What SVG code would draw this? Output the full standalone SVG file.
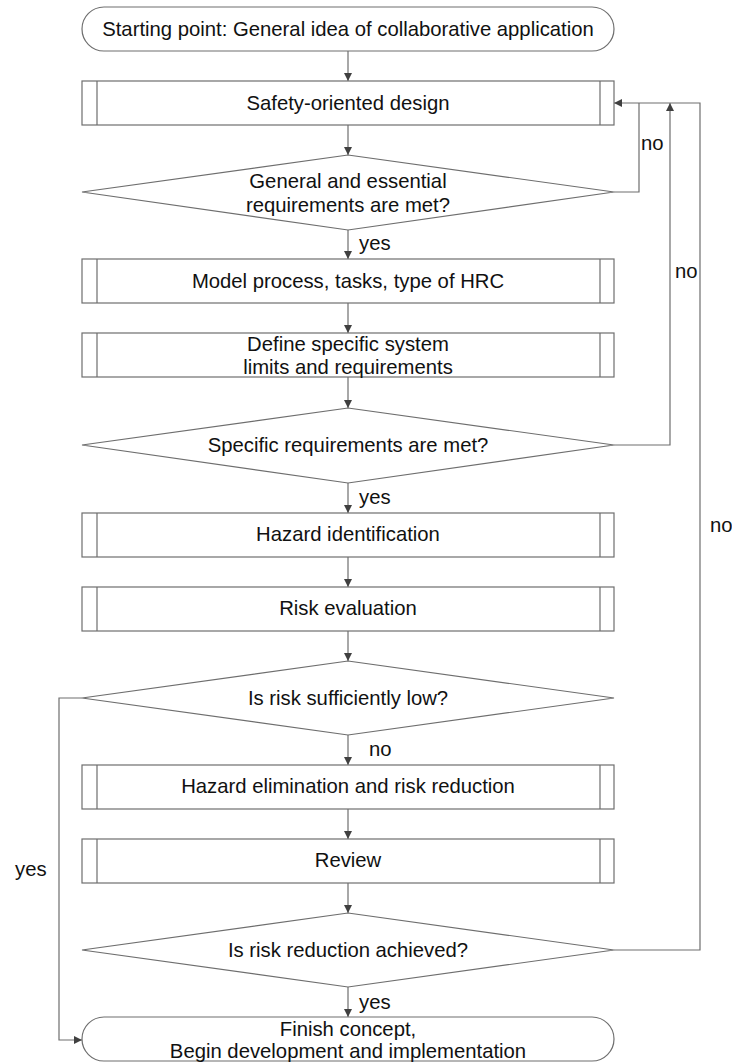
<svg xmlns="http://www.w3.org/2000/svg" width="732" height="1062" viewBox="0 0 732 1062">
<defs>
<marker id="ah" viewBox="0 0 10 10" refX="10" refY="5" markerWidth="8" markerHeight="8" markerUnits="userSpaceOnUse" orient="auto">
<path d="M0,0 L10,5 L0,10 z" fill="#404040"/>
</marker>
<style>
.s{fill:#fff;stroke:#6e6e6e;stroke-width:1.2}
.l{fill:none;stroke:#6e6e6e;stroke-width:1.2}
.c{fill:none;stroke:#6e6e6e;stroke-width:1.2}
text{font-family:"Liberation Sans",Arial,sans-serif;font-size:20.3px;fill:#111}
.m{text-anchor:middle}
</style>
</defs>
<rect width="732" height="1062" fill="#fff"/>
<g id="connectors">
<path class="c" d="M348,51 V81" marker-end="url(#ah)"/>
<path class="c" d="M348,125 V155" marker-end="url(#ah)"/>
<path class="c" d="M348,230 V259" marker-end="url(#ah)"/>
<path class="c" d="M348,303 V333" marker-end="url(#ah)"/>
<path class="c" d="M348,377 V408" marker-end="url(#ah)"/>
<path class="c" d="M348,483 V513" marker-end="url(#ah)"/>
<path class="c" d="M348,557 V587" marker-end="url(#ah)"/>
<path class="c" d="M348,631 V661" marker-end="url(#ah)"/>
<path class="c" d="M348,735 V765" marker-end="url(#ah)"/>
<path class="c" d="M348,809 V839" marker-end="url(#ah)"/>
<path class="c" d="M348,883 V913" marker-end="url(#ah)"/>
<path class="c" d="M348,987 V1017" marker-end="url(#ah)"/>
<path class="c" d="M614,192 H639 V103"/>
<path class="c" d="M614,445 H670 V103" marker-end="url(#ah)"/>
<path class="c" d="M614,950 H700 V103 H614" marker-end="url(#ah)"/>
<path class="c" d="M82,698 H59 V1040 H82" marker-end="url(#ah)"/>
<text x="641" y="150">no</text>
<text x="675" y="278">no</text>
<text x="710" y="532">no</text>
<text x="15" y="876">yes</text>
<text x="359" y="250">yes</text>
<text x="359" y="504">yes</text>
<text x="369" y="756">no</text>
<text x="359" y="1009">yes</text>
</g>
<g id="start">
<rect class="s" x="82" y="7" width="532" height="44" rx="22" ry="22"/>
<text class="m" x="348" y="36">Starting point: General idea of collaborative application</text>
</g>
<g id="safety">
<rect class="s" x="82" y="81" width="532" height="44"/>
<path class="l" d="M97,81 V125 M600,81 V125"/>
<text class="m" x="348" y="110">Safety-oriented design</text>
</g>
<g id="dec1">
<polygon class="s" points="348,155 614,192 348,230 82,192"/>
<text class="m" x="348" y="188">General and essential</text>
<text class="m" x="348" y="212">requirements are met?</text>
</g>
<g id="model">
<rect class="s" x="82" y="259" width="532" height="44"/>
<path class="l" d="M97,259 V303 M600,259 V303"/>
<text class="m" x="348" y="288">Model process, tasks, type of HRC</text>
</g>
<g id="define">
<rect class="s" x="82" y="333" width="532" height="44"/>
<path class="l" d="M97,333 V377 M600,333 V377"/>
<text class="m" x="348" y="351">Define specific system</text>
<text class="m" x="348" y="374">limits and requirements</text>
</g>
<g id="dec2">
<polygon class="s" points="348,408 614,445 348,483 82,445"/>
<text class="m" x="348" y="452">Specific requirements are met?</text>
</g>
<g id="hazard">
<rect class="s" x="82" y="513" width="532" height="44"/>
<path class="l" d="M97,513 V557 M600,513 V557"/>
<text class="m" x="348" y="541">Hazard identification</text>
</g>
<g id="risk">
<rect class="s" x="82" y="587" width="532" height="44"/>
<path class="l" d="M97,587 V631 M600,587 V631"/>
<text class="m" x="348" y="615">Risk evaluation</text>
</g>
<g id="dec3">
<polygon class="s" points="348,661 614,698 348,735 82,698"/>
<text class="m" x="348" y="705">Is risk sufficiently low?</text>
</g>
<g id="elim">
<rect class="s" x="82" y="765" width="532" height="44"/>
<path class="l" d="M97,765 V809 M600,765 V809"/>
<text class="m" x="348" y="793">Hazard elimination and risk reduction</text>
</g>
<g id="review">
<rect class="s" x="82" y="839" width="532" height="44"/>
<path class="l" d="M97,839 V883 M600,839 V883"/>
<text class="m" x="348" y="867">Review</text>
</g>
<g id="dec4">
<polygon class="s" points="348,913 614,950 348,987 82,950"/>
<text class="m" x="348" y="957">Is risk reduction achieved?</text>
</g>
<g id="finish">
<rect class="s" x="82" y="1017" width="532" height="44" rx="22" ry="22"/>
<text class="m" x="348" y="1036">Finish concept,</text>
<text class="m" x="348" y="1058">Begin development and implementation</text>
</g>
</svg>
